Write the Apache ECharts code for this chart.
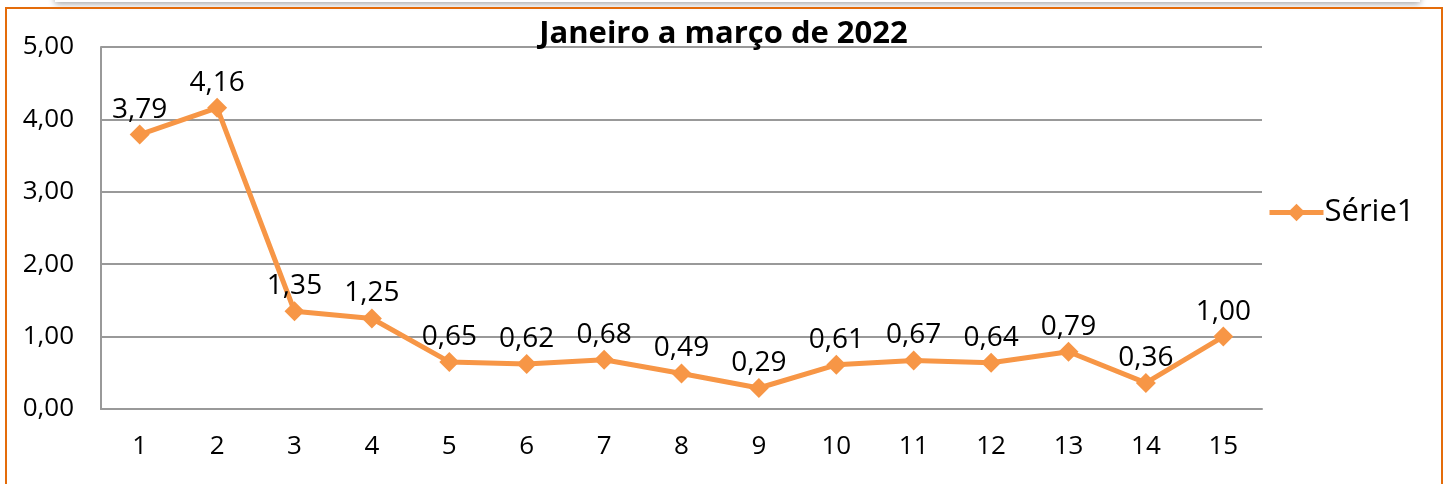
<!DOCTYPE html>
<html>
<head>
<meta charset="utf-8">
<script src="https://cdn.jsdelivr.net/npm/echarts@6/dist/echarts.min.js"></script>
<style>
  html, body { margin: 0; padding: 0; background: #fff; overflow: hidden; }
  #shadow { position: absolute; left: 55px; top: -10px; width: 1365px; height: 12px; box-shadow: 0 2px 6px rgba(0,0,0,0.35); background: #fff; }
  #frame { position: absolute; left: 5px; top: 7px; width: 1438px; height: 490px; border: 2px solid #E46C0A; box-sizing: border-box; }
  #main { position: absolute; left: 0; top: 0; width: 1447px; height: 484px; }
</style>
</head>
<body>
<div id="shadow"></div>
<div id="frame"></div>
<div id="main"></div>
<script>
// dados
const categorias = ['1','2','3','4','5','6','7','8','9','10','11','12','13','14','15'];
const serie1 = [3.79, 4.16, 1.35, 1.25, 0.65, 0.62, 0.68, 0.49, 0.29, 0.61, 0.67, 0.64, 0.79, 0.36, 1.00];
const titulo = 'Janeiro a março de 2022';
const nomeSerie = 'Série1';

const fmt = v => v.toFixed(2).replace('.', ',');
const fonte = '"Open Sans", "Noto Sans", sans-serif';

let chart = echarts.init(document.getElementById('main'));
let option = {
    animation: false,
    textStyle: { fontFamily: fonte },
    title: {
        text: titulo,
        left: 'center',
        top: 14,
        textStyle: { fontSize: 31, fontWeight: 'bold', color: '#000', fontFamily: fonte }
    },
    legend: {
        data: [nomeSerie],
        left: 1262,
        top: 192,
        orient: 'vertical',
        itemWidth: 54,
        itemHeight: 22,
        itemGap: 8,
        lineStyle: { width: 5 },
        textStyle: { fontSize: 31, color: '#000', fontFamily: fonte, padding: [0, 0, 0, -4] }
    },
    grid: { left: 101, right: 185, top: 47, bottom: 75 },
    xAxis: {
        type: 'category',
        data: categorias,
        boundaryGap: true,
        axisLine: { lineStyle: { color: '#999', width: 2 } },
        axisTick: { show: false },
        axisLabel: { fontSize: 26, color: '#000', margin: 25, fontFamily: fonte }
    },
    yAxis: {
        type: 'value',
        min: 0,
        max: 5,
        interval: 1,
        axisLine: { show: true, lineStyle: { color: '#999', width: 2 } },
        axisTick: { show: false },
        splitLine: { lineStyle: { color: '#999', width: 2 } },
        axisLabel: { fontSize: 26, color: '#000', margin: 27, formatter: fmt, fontFamily: fonte }
    },
    series: [{
        name: nomeSerie,
        type: 'line',
        data: serie1,
        symbol: 'diamond',
        symbolSize: 20,
        lineStyle: { color: '#F79646', width: 5 },
        itemStyle: { color: '#F79646' },
        label: {
            show: true,
            position: 'top',
            distance: 1,
            fontSize: 28,
            color: '#000',
            fontFamily: fonte,
            formatter: p => fmt(p.value)
        }
    }]
};
chart.setOption(option);
</script>
</body>
</html>
